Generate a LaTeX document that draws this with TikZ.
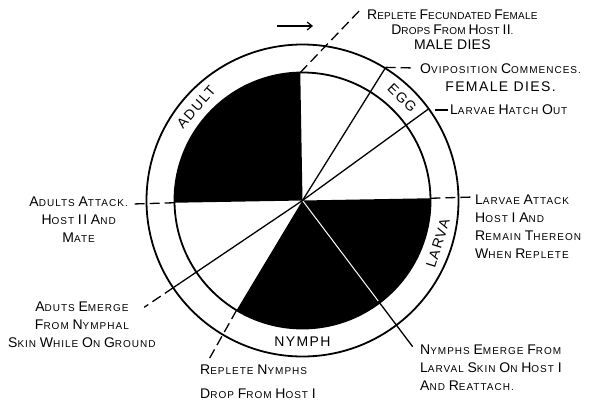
\documentclass[tikz,border=0pt]{standalone}
\usepackage{fontspec}
\setmainfont{Liberation Sans}[LetterSpace=10]
\usepackage{tikz}
\usetikzlibrary{arrows.meta}
\newcommand{\Ini}[1]{{\fontsize{14}{18}\selectfont #1}}

\begin{document}
\begin{tikzpicture}[=>stealth,x=1pt,y=1pt,
  ring/.style={line width=1.8pt},
  spoke/.style={line width=1.3pt},
  lead/.style={line width=1.3pt,dash pattern=on 10pt off 5pt},
  lbl/.style={inner sep=0pt,font=\fontsize{10}{18}\selectfont},
  stage/.style={inner sep=0pt,font=\fontsize{14}{16}\selectfont}]
\useasboundingbox(-302.5,-206.5)rectangle(290.5,200.5);
%% black parts of the year
\fill(0,0)--(91:128)arc[start angle=91,end angle=181,radius=128pt]--cycle;
\fill(0,0)--(-121:128)arc[start angle=-121,end angle=1,radius=128pt]--cycle;
\draw[white,line width=1pt](0,0)--(-53:126);
%% rings
\draw[ring](0,0)circle[radius=128pt];
\draw[ring](0,0)circle[radius=156pt];
%% points on the rings
\coordinate(c) at (0,0);
\coordinate(pTop) at (91:128);
\coordinate(pLeft) at (181:128);
\coordinate(pRight) at (1:128);
\coordinate(pDrop) at (-121:128);
\coordinate(pMoult) at (-53:126);
\coordinate(pEgg) at (58:157);
\coordinate(pHatch) at (36:155);
\coordinate(pEmerge) at (-146:156);
%% free ends of the leaders
\coordinate(eTop) at (59.5,192.5);
\coordinate(eEgg) at (112.5,132.5);
\coordinate(hatchA) at (132.5,90.5);
\coordinate(hatchB) at (145.5,90.5);
\coordinate(eRight) at (171.5,3.5);
\coordinate(eLeft) at (-169.5,-3.5);
\coordinate(eEmerge) at (-146:191);
\coordinate(eDrop) at (-120.5:183);
\coordinate(eMoult) at (-53:183);
%% spokes
\draw[spoke](c)--(pEgg);
\draw[spoke](c)--(pHatch);
\draw[spoke](c)--(pEmerge);
\draw[spoke](pMoult)--(eMoult);
\draw[spoke](hatchA)--(hatchB);
%% leaders
\draw[lead](pTop)--(eTop);
\draw[lead](pEgg)--(eEgg);
\draw[lead](pRight)--(eRight);
\draw[lead](pLeft)--(eLeft);
\draw[lead](pEmerge)--(eEmerge);
\draw[lead](pDrop)--(eDrop);
%% stages
\node[stage,rotate=48.7](adult) at (138.7:141.5){ADULT};
\node[stage,rotate=-44.2](egg) at (45.8:143){EGG};
\node[stage,rotate=72.4](larva) at (-17.6:142){LARVA};
\node[stage](nymph) at (-90:141.5){NYMPH};
%% direction
\coordinate(arA) at (-25.5,174.5);
\coordinate(arB) at (10.5,174.5);
\draw[-{Straight Barb[length=5pt,width=8pt]},line width=1.2pt](arA)--(arB);
%% texts
\node[lbl,align=center,anchor=north west,font=\fontsize{10}{18}\selectfont\addfontfeature{LetterSpace=2}](dropsFemale) at (64.5,190.5){\Ini{R}EPLETE \Ini{F}ECUNDATED \Ini{F}EMALE\\[-3pt] \Ini{D}ROPS \Ini{F}ROM \Ini{H}OST \Ini{II}.\\[-3pt] \Ini{MALE DIES}};
\node[lbl,align=center,anchor=north west](oviposition) at (117.5,136.5){\Ini{O}VIPOSITION \Ini{C}OMMENCES.\\ \Ini{FEMALE DIES.}};
\node[lbl,anchor=west](hatch) at (147.5,90.5){\Ini{L}ARVAE \Ini{H}ATCH \Ini{O}UT};
\node[lbl,align=left,anchor=north west](larvaeAttack) at (172.5,5.5){\Ini{L}ARVAE \Ini{A}TTACK\\ \Ini{H}OST \Ini{I} \Ini{A}ND\\ \Ini{R}EMAIN \Ini{T}HEREON\\ \Ini{W}HEN \Ini{R}EPLETE};
\node[lbl,align=center,anchor=north east](adultsAttack) at (-174.5,3.5){\Ini{A}DULTS \Ini{A}TTACK.\\ \Ini{H}OST \Ini{II} \Ini{A}ND\\ \Ini{M}ATE};
\node[lbl,align=center,anchor=north west](adultsEmerge) at (-294.5,-101.5){\Ini{A}DUTS \Ini{E}MERGE\\ \Ini{F}ROM \Ini{N}YMPHAL\\ \Ini{S}KIN \Ini{W}HILE \Ini{O}N \Ini{G}ROUND};
\node[lbl,align=left,anchor=north west](nymphsDrop) at (-102.5,-164.5){\Ini{R}EPLETE \Ini{N}YMPHS\\[6pt] \Ini{D}ROP \Ini{F}ROM \Ini{H}OST \Ini{I}};
\node[lbl,align=left,anchor=north west](nymphsEmerge) at (117.5,-144.5){\Ini{N}YMPHS \Ini{E}MERGE \Ini{F}ROM\\ \Ini{L}ARVAL \Ini{S}KIN \Ini{O}N \Ini{H}OST \Ini{I}\\ \Ini{A}ND \Ini{R}EATTACH.};
\end{tikzpicture}
\end{document}
